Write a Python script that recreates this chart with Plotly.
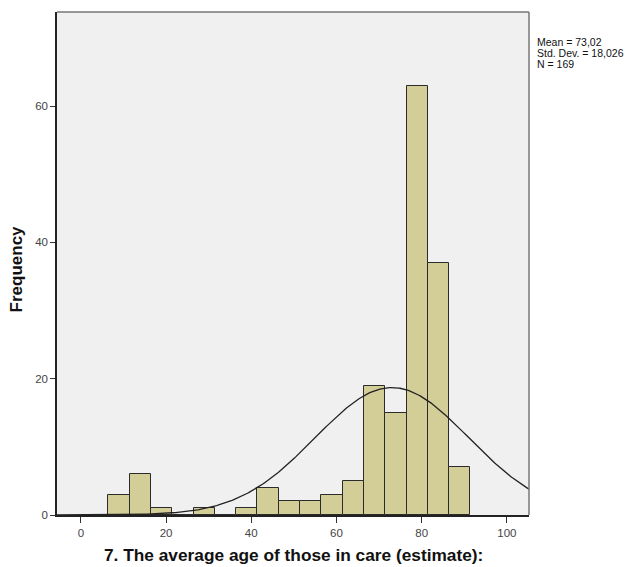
import numpy as np
import plotly.graph_objects as go

bin_starts = [6.45, 11.45, 16.45, 21.45, 26.45, 31.45, 36.45, 41.45, 46.45, 51.45,
              56.45, 61.45, 66.45, 71.45, 76.45, 81.45, 86.45]
counts = [3, 6, 1, 0, 1, 0, 1, 4, 2, 2, 3, 5, 19, 15, 63, 37, 7]
bin_width = 5
mean_val = 73.02
std_val = 18.026
n_val = 169
x_ticks = [0, 20, 40, 60, 80, 100]
y_ticks = [0, 20, 40, 60]
stat_lines = ["Mean = 73,02", "Std. Dev. = 18,026", "N = 169"]

centers = [s + bin_width / 2 for s in bin_starts]

x_range = [-5.6, 105.2]
y_range = [0, 73.8]

xc = np.linspace(x_range[0], x_range[1], 400)
yc = n_val * bin_width / (std_val * np.sqrt(2 * np.pi)) * np.exp(-0.5 * ((xc - mean_val) / std_val) ** 2)

fig = go.Figure()
fig.add_trace(go.Bar(
    x=centers, y=counts, width=bin_width,
    marker=dict(color="#d3ce97", line=dict(color="#2b2b2b", width=1)),
    hoverinfo="skip"))
fig.add_trace(go.Scatter(
    x=xc, y=yc, mode="lines", line=dict(color="#222222", width=1.3),
    hoverinfo="skip"))

annots = []
for txt, yy in zip(stat_lines, [0.940, 0.918, 0.896]):
    annots.append(dict(xref="paper", yref="paper", x=1.015, y=yy,
                       xanchor="left", yanchor="middle", showarrow=False,
                       borderpad=0,
                       text=txt, font=dict(size=10.5, color="#111111")))
annots.append(dict(xref="paper", yref="paper", x=0.5, y=-0.0800,
                   xanchor="center", yanchor="middle", showarrow=False,
                   text="<b>7. The average age of those in care (estimate):</b>",
                   font=dict(size=17.3, color="#111111")))
annots.append(dict(xref="paper", yref="paper", x=-0.0850, y=0.490, textangle=-90,
                   xanchor="center", yanchor="middle", showarrow=False,
                   borderpad=0,
                   text="<b>Frequency</b>",
                   font=dict(size=17, color="#111111")))

fig.update_layout(
    width=631, height=559,
    margin=dict(l=49, r=110, t=4, b=52),
    paper_bgcolor="white", plot_bgcolor="#f0f0f0",
    showlegend=False, bargap=0,
    font=dict(family="Liberation Sans, Arial, sans-serif", color="#333333"),
    xaxis=dict(range=x_range, tickvals=x_ticks, ticks="outside", ticklen=6,
               tickcolor="#333333", showgrid=False, zeroline=False, automargin=False,
               showline=True, linecolor="#222222", linewidth=1.5,
               tickfont=dict(size=11.5, color="#444444")),
    yaxis=dict(range=y_range, tickvals=y_ticks, ticks="outside", ticklen=5,
               tickcolor="#333333", showgrid=False, zeroline=False, automargin=False,
               showline=True, linecolor="#222222", linewidth=1.5,
               tickfont=dict(size=11.5, color="#444444")),
    shapes=[
        dict(type="line", xref="paper", yref="paper", x0=0, x1=1, y0=1, y1=1,
             line=dict(color="#777777", width=1.5)),
        dict(type="line", xref="paper", yref="paper", x0=1, x1=1, y0=0, y1=1,
             line=dict(color="#777777", width=1.5)),
    ],
    annotations=annots,
)

fig.write_html("out.html")
